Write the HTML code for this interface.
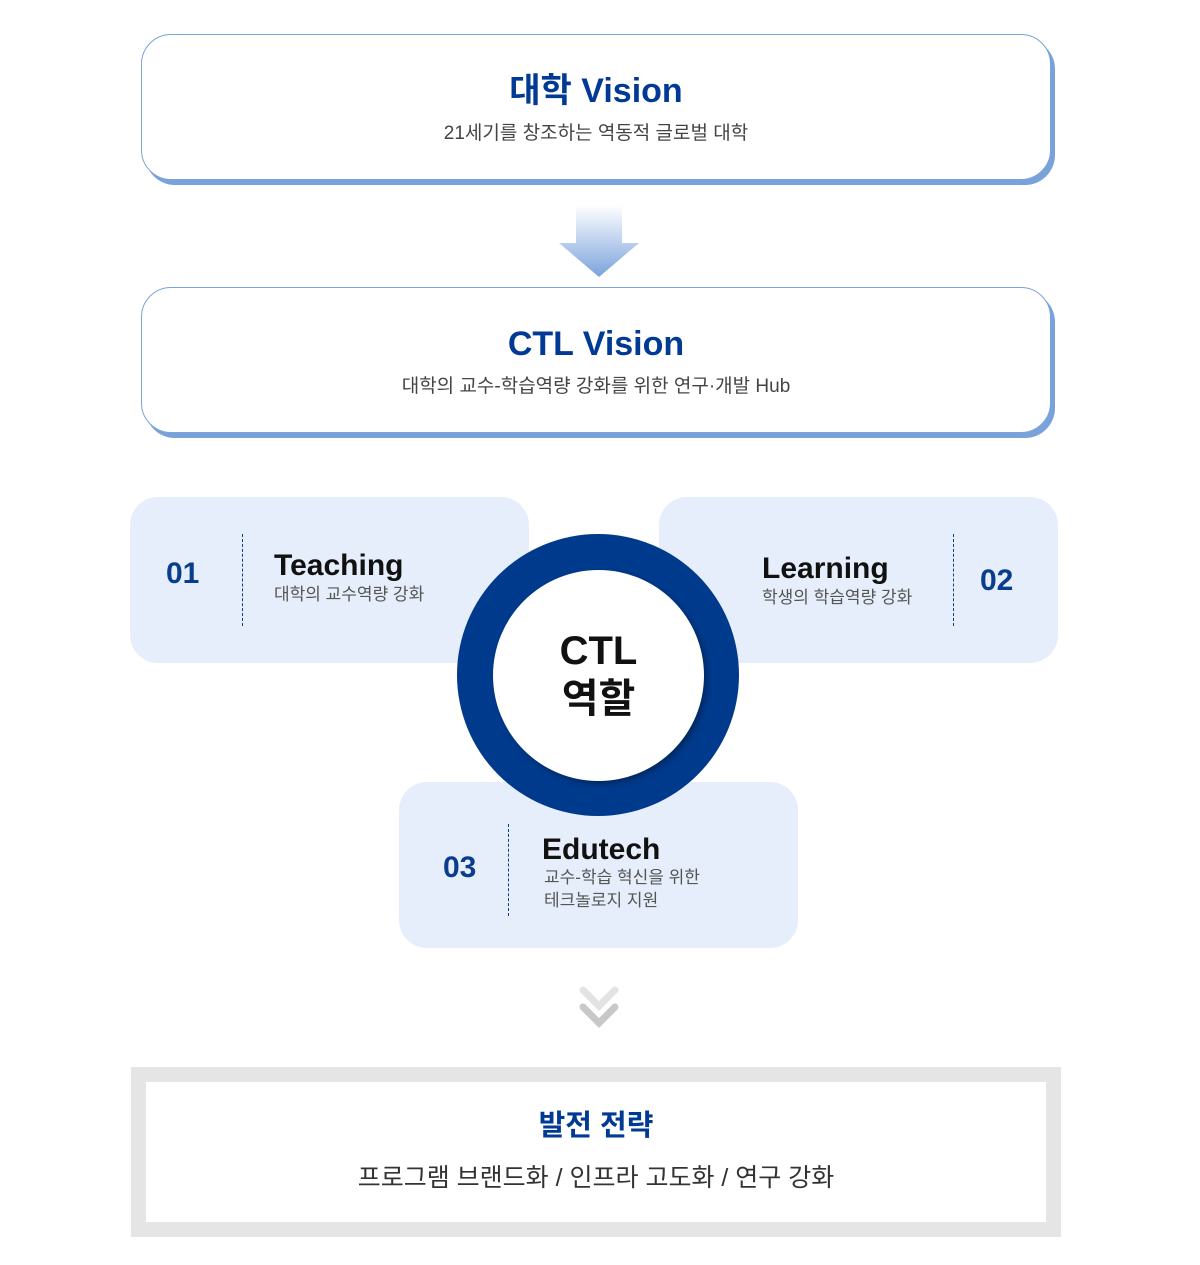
<!DOCTYPE html>
<html><head><meta charset="utf-8"><style>
*{margin:0;padding:0;box-sizing:border-box}
body{width:1200px;height:1265px;background:#fff;position:relative;overflow:hidden;font-family:"Liberation Sans","Noto Sans CJK KR",sans-serif}
.a{position:absolute}
.vb{position:absolute;left:141px;width:910px;height:146px;border:1px solid #7ba3dc;border-radius:30px;background:#fff;box-shadow:4px 5px 0 #79a2da;text-align:center}
.vb h2{font-size:34px;color:#003a94;font-weight:bold;margin-top:35px;line-height:42px}
.vb p{font-size:19px;color:#444;margin-top:6px}
.card{position:absolute;width:399px;height:166px;background:#e5eefa;border-radius:28px}
.num{position:absolute;font-size:30px;font-weight:bold;color:#0a3d8c}
.dl{position:absolute;width:0;border-left:1px dashed #0a3d8c;height:92px}
.t{position:absolute;font-size:30px;font-weight:bold;color:#111;line-height:32px}
.s{position:absolute;font-size:17px;color:#555;line-height:23px}
</style></head><body>
<div class="vb" style="top:34px"><h2>대학 Vision</h2><p>21세기를 창조하는 역동적 글로벌 대학</p></div>
<svg class="a" style="left:555px;top:200px" width="90" height="80"><defs><linearGradient id="g" x1="0" y1="0" x2="0" y2="1"><stop offset="0" stop-color="#fff"/><stop offset="1" stop-color="#7ba3dc"/></linearGradient></defs><path d="M21 5H67V43H84L44 77L4 43H21Z" fill="url(#g)"/></svg>
<div class="vb" style="top:287px"><h2>CTL Vision</h2><p>대학의 교수-학습역량 강화를 위한 연구·개발 Hub</p></div>

<div class="card" style="left:130px;top:497px"></div>
<div class="card" style="left:659px;top:497px"></div>
<div class="card" style="left:399px;top:782px"></div>
<div class="a" style="left:457px;top:534px;width:282px;height:282px;border-radius:50%;background:#003a8c"></div>
<div class="a" style="left:493px;top:570px;width:211px;height:211px;border-radius:50%;background:#fff;box-shadow:3px 3px 6px rgba(0,0,0,.3);text-align:center;padding-top:57px;font-size:40px;font-weight:bold;color:#111;line-height:48px">CTL<br>역할</div>

<div class="num" style="left:166px;top:557px">01</div>
<div class="dl" style="left:242px;top:534px"></div>
<div class="t" style="left:274px;top:550px">Teaching</div>
<div class="s" style="left:274px;top:583px">대학의 교수역량 강화</div>

<div class="t" style="left:762px;top:553px">Learning</div>
<div class="s" style="left:762px;top:586px">학생의 학습역량 강화</div>
<div class="dl" style="left:953px;top:534px"></div>
<div class="num" style="left:980px;top:564px">02</div>

<div class="num" style="left:443px;top:851px">03</div>
<div class="dl" style="left:508px;top:824px"></div>
<div class="t" style="left:542px;top:834px">Edutech</div>
<div class="s" style="left:544px;top:866px">교수-학습 혁신을 위한<br>테크놀로지 지원</div>

<svg class="a" style="left:578px;top:985px" width="42" height="46"><path d="M5 5L21 21L37 5" stroke="#e3e3e3" stroke-width="7" fill="none" stroke-linecap="round"/><path d="M5 22L21 38L37 22" stroke="#c8c8c8" stroke-width="7" fill="none" stroke-linecap="round"/></svg>

<div class="a" style="left:131px;top:1067px;width:930px;height:170px;border:15px solid #e5e5e5;background:#fff;text-align:center">
<div style="font-size:29px;font-weight:bold;color:#003a94;margin-top:26px;line-height:36px">발전 전략</div>
<div style="font-size:25px;color:#333;margin-top:18px;line-height:32px">프로그램 브랜드화 / 인프라 고도화 / 연구 강화</div>
</div>
</body></html>
